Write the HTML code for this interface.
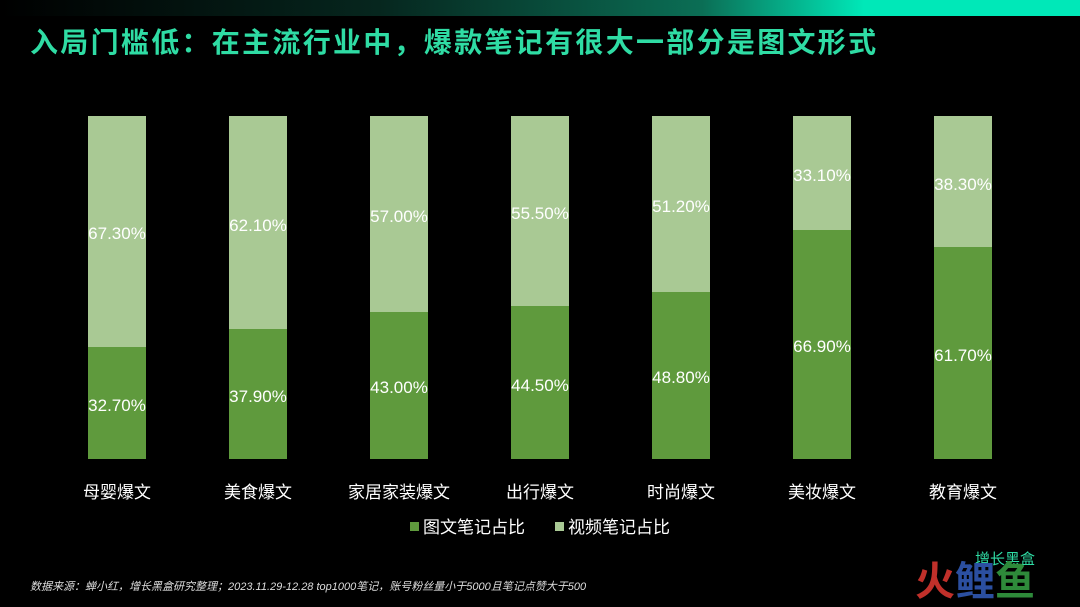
<!DOCTYPE html>
<html><head><meta charset="utf-8"><style>
body{margin:0;width:1080px;height:607px;background:#000;overflow:hidden;position:relative;font-family:"Liberation Sans","Noto Sans CJK SC",sans-serif}
.top{position:absolute;left:0;top:0;width:1080px;height:16px;background:linear-gradient(90deg,#000 0%,#06261e 35%,#0b6e55 65%,#00e8b8 80%,#00e8b8 100%)}
.title{position:absolute;left:30px;top:21px;font-size:28px;font-weight:bold;color:#2fdca4;letter-spacing:2.3px;white-space:nowrap}
.bar{position:absolute;width:58px}
.l{background:#a9c994}.d{background:#5f9a3d}
.v{position:absolute;width:120px;text-align:center;color:#fff;font-size:17px}
.c{position:absolute;width:140px;text-align:center;color:#fff;font-size:17px;top:478px}
.leg{position:absolute;top:513px;color:#fff;font-size:17px}
.sq{display:inline-block;width:9px;height:9px;margin-right:4px;vertical-align:2px}
.src{position:absolute;left:30px;top:578px;font-size:11px;color:#ddd;font-style:italic}
</style></head><body>
<div class="top"></div>
<div class="title">入局门槛低：在主流行业中，爆款笔记有很大一部分是图文形式</div>
<div id="ch"></div>
<div class="leg" style="left:410px"><span class="sq" style="background:#5f9a3d"></span>图文笔记占比</div>
<div class="leg" style="left:555px"><span class="sq" style="background:#a9c994"></span>视频笔记占比</div>
<div class="src">数据来源：蝉小红，增长黑盒研究整理；2023.11.29-12.28 top1000笔记，账号粉丝量小于5000且笔记点赞大于500</div>
<div style="position:absolute;left:975px;top:548px;color:#2fdca4;font-size:15px">增长黑盒</div>
<div style="position:absolute;left:915px;top:562px;font-size:40px;font-weight:bold;color:#c0302a;line-height:40px">火<span style="color:#2b4fa0">鲤</span><span style="color:#2e8a3a">鱼</span></div>
<script>
(function(){
var d=[["母婴爆文",32.7],["美食爆文",37.9],["家居家装爆文",43.0],["出行爆文",44.5],["时尚爆文",48.8],["美妆爆文",66.9],["教育爆文",61.7]];
var h="",T=116,B=459,H=B-T;
d.forEach(function(e,i){var cx=117+i*141,x=cx-29,dh=H*e[1]/100,dt=B-dh;
h+='<div class="bar l" style="left:'+x+'px;top:'+T+'px;height:'+(dt-T)+'px"></div>';
h+='<div class="bar d" style="left:'+x+'px;top:'+dt+'px;height:'+dh+'px"></div>';
h+='<div class="v" style="left:'+(cx-60)+'px;top:'+((T+dt)/2-7)+'px">'+(100-e[1]).toFixed(2)+'%</div>';
h+='<div class="v" style="left:'+(cx-60)+'px;top:'+((dt+B)/2-7)+'px">'+e[1].toFixed(2)+'%</div>';
h+='<div class="c" style="left:'+(cx-70)+'px">'+e[0]+'</div>';});
document.getElementById("ch").innerHTML=h;
})();
</script>
</body></html>
